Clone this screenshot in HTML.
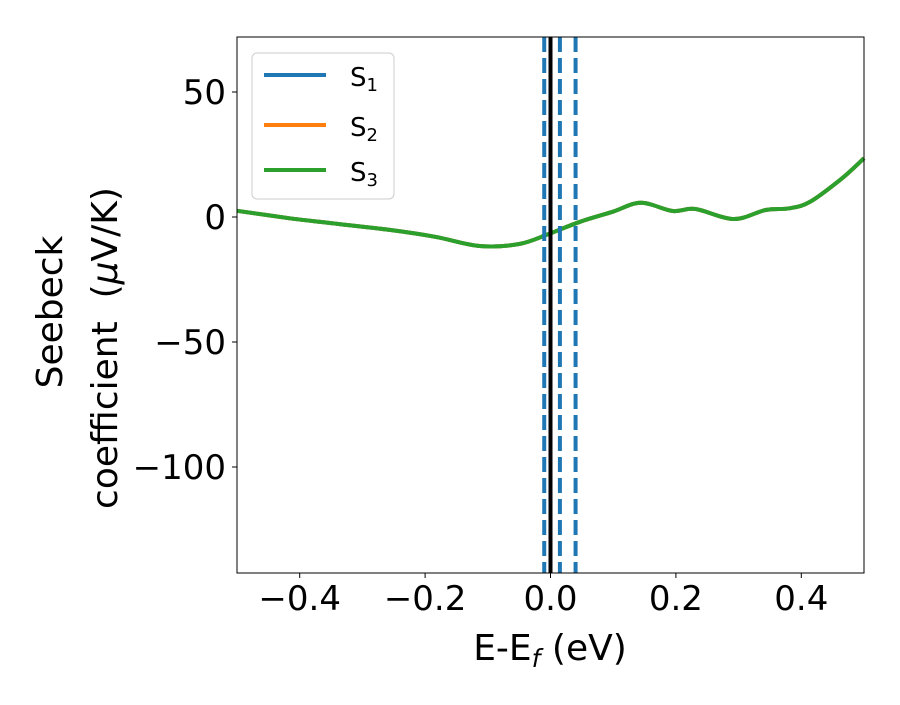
<!DOCTYPE html>
<html><head><meta charset="utf-8"><style>
body{margin:0;background:#fff}
text{font-family:"DejaVu Sans","Liberation Sans",sans-serif;fill:#000}
</style></head><body>
<svg id="chart" width="900" height="700">
<rect x="0" y="0" width="900" height="700" fill="#fff"/>
<g id="plot"></g>
<rect x="237" y="37" width="627" height="536" fill="none" stroke="#000" stroke-width="1"/>
<g id="ticks"></g>
<text x="550" y="660" font-size="36" text-anchor="middle">E-E<tspan font-size="25" dy="7" font-style="italic">f</tspan><tspan dy="-7"> (eV)</tspan></text>
<g transform="translate(62,312) rotate(-90)">
<text x="0" y="0" font-size="36" text-anchor="middle">Seebeck</text>
<text x="-36" y="55" font-size="36" text-anchor="middle" xml:space="preserve">coefficient  (<tspan font-style="italic">μ</tspan>V/K)</text>
</g>
<g>
<rect x="252" y="53" width="142" height="146" rx="5" fill="#fff" fill-opacity="0.8" stroke="#ccc"/>
<g><line x1="264" y1="75" x2="326" y2="75" stroke="#1f77b4" stroke-width="4"/><text x="350" y="86" font-size="26">S<tspan font-size="18" dy="5">1</tspan></text></g>
<g><line x1="264" y1="125" x2="326" y2="125" stroke="#ff7f0e" stroke-width="4"/><text x="350" y="136" font-size="26">S<tspan font-size="18" dy="5">2</tspan></text></g>
<g><line x1="264" y1="170" x2="326" y2="170" stroke="#2ca02c" stroke-width="4"/><text x="350" y="181" font-size="26">S<tspan font-size="18" dy="5">3</tspan></text></g>
</g>
</svg>
<script>
const xVals=[-0.5,-0.416,-0.338,-0.255,-0.184,-0.113,-0.05,-0.004,0.047,0.099,0.144,0.195,0.231,0.292,0.343,0.381,0.414,0.465,0.5];
const s1=[2.5,-0.5,-2.8,-5.2,-7.9,-11.6,-10.8,-6.9,-1.9,2.1,5.7,2.4,3.2,-0.8,2.8,3.5,6.1,15.5,23.5];
const s2=s1.slice();
const s3=s1.slice();
const dashedLines=[-0.01,0.015,0.04];
const fermiLine=[0];
const xTicks=[-0.4,-0.2,0.0,0.2,0.4];
const yTicks=[50,0,-50,-100];
const X0=237,X1=864,Y0=573,Y1=37,XMIN=-0.5,XMAX=0.5,YMIN=-142.4,YMAX=72;
const sx=v=>X0+(v-XMIN)/(XMAX-XMIN)*(X1-X0);
const sy=v=>Y0-(v-YMIN)/(YMAX-YMIN)*(Y0-Y1);
const NS="http://www.w3.org/2000/svg";
const plot=document.getElementById('plot'),ticks=document.getElementById('ticks');
function mk(t,a,p){const e=document.createElementNS(NS,t);for(const k in a)e.setAttribute(k,a[k]);p.appendChild(e);return e;}
function smoothPath(pts){let d='M'+pts[0][0].toFixed(1)+','+pts[0][1].toFixed(1);
for(let i=0;i<pts.length-1;i++){const p0=pts[i-1]||pts[i],p1=pts[i],p2=pts[i+1],p3=pts[i+2]||p2;
const c1=[p1[0]+(p2[0]-p0[0])/6,p1[1]+(p2[1]-p0[1])/6],c2=[p2[0]-(p3[0]-p1[0])/6,p2[1]-(p3[1]-p1[1])/6];
d+=' C'+c1[0].toFixed(1)+','+c1[1].toFixed(1)+' '+c2[0].toFixed(1)+','+c2[1].toFixed(1)+' '+p2[0].toFixed(1)+','+p2[1].toFixed(1);}
return d;}
function series(arr,color,name){const pts=arr.map((v,i)=>[sx(xVals[i]),sy(v)]);
const p=mk('path',{d:smoothPath(pts),fill:'none',stroke:color,'stroke-width':4,'stroke-linejoin':'round'},plot);

}
series(s1,'#1f77b4','series-s1');series(s2,'#ff7f0e','series-s2');series(s3,'#2ca02c','series-s3');
dashedLines.forEach(v=>{const l=mk('line',{x1:sx(v),x2:sx(v),y1:Y1,y2:Y0,stroke:'#1f77b4','stroke-width':4,'stroke-dasharray':'15 6'},plot);

});
fermiLine.forEach(v=>{const l=mk('line',{x1:sx(v),x2:sx(v),y1:Y1,y2:Y0,stroke:'#000','stroke-width':4},plot);

});
xTicks.forEach(v=>{mk('line',{x1:sx(v),x2:sx(v),y1:Y0,y2:Y0+5,stroke:'#000'},ticks);
const t=mk('text',{x:sx(v),y:Y0+37,'font-size':34,'text-anchor':'middle'},ticks);t.textContent=(v<0?'\u2212':'')+Math.abs(v).toFixed(1);

});
yTicks.forEach(v=>{mk('line',{x1:X0-5,x2:X0,y1:sy(v),y2:sy(v),stroke:'#000'},ticks);
const t=mk('text',{x:X0-11,y:sy(v)+12,'font-size':34,'text-anchor':'end'},ticks);t.textContent=(v<0?'\u2212':'')+Math.abs(v);

});
</script>
</body></html>
